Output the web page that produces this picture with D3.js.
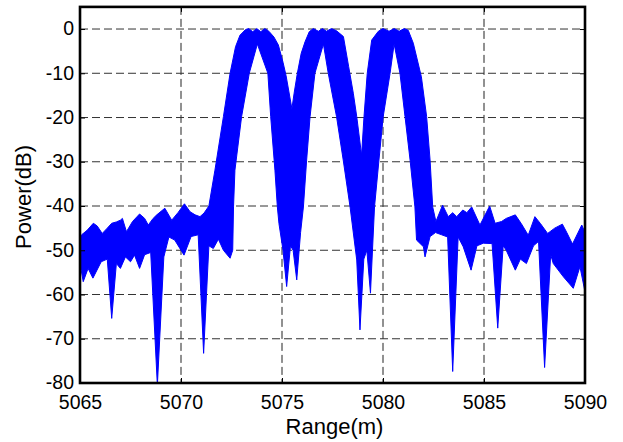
<!DOCTYPE html>
<html>
<head>
<meta charset="utf-8">
<script src="https://cdn.jsdelivr.net/npm/d3@7"></script>
<style>
  html, body { margin: 0; padding: 0; background: #fff; }
  svg { display: block; }
  text { font-family: "Liberation Sans", Arial, Helvetica, sans-serif; fill: #000; }
</style>
</head>
<body>
<svg id="chart" width="623" height="442"></svg>
<script>
// ---- Data ----
const xTicks = [5065, 5070, 5075, 5080, 5085, 5090];
const yTicks = [-80, -70, -60, -50, -40, -30, -20, -10, 0];
const xLabel = "Range(m)";
const yLabel = "Power(dB)";

// Upper envelope of the family of range profiles
const upperRange = [5065.0, 5065.08, 5065.35, 5065.66, 5065.85, 5066.1, 5066.35, 5066.57, 5066.8, 5067.0,
  5067.1, 5067.3, 5067.6, 5067.95, 5068.2, 5068.38, 5068.62, 5068.8, 5069.2, 5069.54,
  5069.85, 5070.17, 5070.45, 5070.7, 5070.94, 5071.14, 5071.38, 5071.68, 5072.1, 5072.43,
  5072.7, 5072.92, 5073.2, 5073.35, 5073.55, 5073.75, 5073.95, 5074.15, 5074.35, 5074.6,
  5074.82, 5075.05, 5075.2, 5075.49, 5075.6, 5075.76, 5075.95, 5076.14, 5076.35, 5076.55,
  5076.8, 5077.0, 5077.2, 5077.45, 5077.7, 5078.04, 5078.3, 5078.53, 5078.7, 5078.94,
  5079.06, 5079.22, 5079.44, 5079.77, 5080.0, 5080.3, 5080.55, 5080.8, 5081.05, 5081.25,
  5081.5, 5081.9, 5082.16, 5082.33, 5082.46, 5082.62, 5082.95, 5083.23, 5083.45, 5083.65,
  5083.95, 5084.15, 5084.39, 5084.8, 5085.28, 5085.55, 5085.87, 5086.1, 5086.55, 5086.85,
  5087.19, 5087.52, 5087.8, 5088.15, 5088.5, 5088.88, 5089.1, 5089.38, 5089.84, 5090.0];
const upperPower = [-47.5, -46.5, -45.5, -43.9, -44.5, -46.2, -45.0, -43.9, -43.6, -43.2,
  -42.8, -45.8, -43.5, -41.8, -42.8, -44.3, -42.8, -42.0, -40.5, -43.2,
  -41.5, -39.5, -41.3, -42.0, -42.4, -41.6, -40.0, -31.9, -19.8, -10.0,
  -4.0, -1.4, -0.1, 0.1, -0.6, 0.1, -0.6, 0.1, -0.5, -1.8,
  -3.6, -7.5, -10.5, -18.0, -14.5, -10.0, -5.5, -2.9, -0.6, 0.1,
  -0.5, 0.1, -0.5, 0.1, -0.4, -1.7, -8.5, -14.5, -19.8, -28.5,
  -19.8, -10.0, -2.5, -0.5, 0.1, -0.5, 0.1, -0.5, 0.1, -0.3,
  -3.2, -10.8, -19.8, -29.6, -40.2, -43.5, -39.8, -42.4, -41.5, -42.4,
  -40.9, -41.5, -40.2, -44.3, -40.0, -43.9, -43.5, -42.8, -42.0, -44.0,
  -46.6, -42.4, -44.0, -46.2, -45.0, -44.1, -46.0, -48.6, -44.3, -46.0];

// Lower envelope of the family of range profiles
const lowerRange = [5065.0, 5065.16, 5065.4, 5065.64, 5066.05, 5066.35, 5066.57, 5066.8, 5067.0, 5067.25,
  5067.5, 5067.7, 5067.95, 5068.2, 5068.5, 5068.83, 5069.15, 5069.4, 5069.69, 5070.15,
  5070.5, 5070.85, 5071.12, 5071.38, 5071.6, 5071.85, 5072.1, 5072.43, 5072.56, 5072.6,
  5072.67, 5073.0, 5073.38, 5073.78, 5074.3, 5074.44, 5074.65, 5074.77, 5074.85, 5075.05,
  5075.23, 5075.42, 5075.55, 5075.73, 5075.92, 5076.06, 5076.22, 5076.39, 5076.63, 5077.05,
  5077.29, 5077.7, 5078.03, 5078.37, 5078.7, 5078.86, 5079.05, 5079.2, 5079.38, 5079.58,
  5079.8, 5080.01, 5080.35, 5080.55, 5080.84, 5081.09, 5081.34, 5081.58, 5081.66, 5082.0,
  5082.08, 5082.33, 5082.6, 5082.9, 5083.2, 5083.45, 5083.72, 5083.97, 5084.36, 5084.65,
  5084.97, 5085.4, 5085.68, 5085.95, 5086.1, 5086.55, 5086.8, 5087.1, 5087.45, 5087.7,
  5088.0, 5088.3, 5088.43, 5088.93, 5089.42, 5089.75, 5090.0];
const lowerPower = [-53.0, -57.1, -54.1, -56.3, -52.6, -52.0, -65.4, -53.0, -54.1, -51.5,
  -52.6, -51.1, -54.1, -51.0, -50.5, -80.5, -51.5, -47.0, -47.7, -51.1,
  -46.9, -46.5, -73.3, -49.0, -49.6, -47.5, -50.0, -51.8, -50.0, -40.2,
  -31.9, -19.8, -10.0, -3.4, -10.0, -19.8, -31.9, -40.2, -44.0, -50.0,
  -58.2, -49.0, -50.0, -56.7, -46.0, -40.2, -29.6, -19.8, -10.0, -3.4,
  -10.0, -19.8, -29.6, -40.2, -52.2, -68.0, -52.0, -50.0, -59.7, -40.2,
  -29.6, -19.8, -10.0, -3.4, -10.0, -19.8, -29.6, -40.2, -47.7, -49.2,
  -51.5, -46.9, -46.0, -46.5, -47.0, -77.4, -47.0, -49.2, -54.5, -49.0,
  -48.4, -48.5, -67.6, -49.0, -50.0, -54.5, -52.0, -53.0, -49.0, -48.0,
  -76.5, -51.0, -53.0, -56.0, -58.6, -53.7, -59.4];

// ---- Chart ----
const svg = d3.select("#chart");
const W = 623, H = 442;
const plot = { left: 80, right: 585, top: 6.9, bottom: 383 };

const x = d3.scaleLinear().domain([5065, 5090]).range([plot.left, plot.right]);
const y = d3.scaleLinear().domain([-80, 5]).range([plot.bottom, plot.top]);

svg.append("rect").attr("width", W).attr("height", H).attr("fill", "#fff");

svg.append("defs").append("clipPath").attr("id", "clip")
  .append("rect")
  .attr("x", plot.left).attr("y", plot.top)
  .attr("width", plot.right - plot.left).attr("height", plot.bottom - plot.top);

// grid
const grid = svg.append("g").attr("class", "grid");
grid.selectAll("line.v").data(xTicks.slice(1, -1)).enter().append("line")
  .attr("x1", d => x(d)).attr("x2", d => x(d))
  .attr("y1", plot.top).attr("y2", plot.bottom)
  .attr("stroke", "#222").attr("stroke-width", 1).attr("stroke-dasharray", "8,4");
grid.selectAll("line.h").data(yTicks.slice(1)).enter().append("line")
  .attr("x1", plot.left).attr("x2", plot.right)
  .attr("y1", d => y(d)).attr("y2", d => y(d))
  .attr("stroke", "#333").attr("stroke-width", 1).attr("stroke-dasharray", "8,4");

// band of profiles (region between upper and lower envelopes)
const upperPts = upperRange.map((r, i) => [r, upperPower[i]]);
const lowerPts = lowerRange.map((r, i) => [r, lowerPower[i]]).reverse();
const line = d3.line().x(d => x(d[0])).y(d => y(d[1]));
svg.append("path")
  .attr("clip-path", "url(#clip)")
  .attr("d", line(upperPts.concat(lowerPts)) + "Z")
  .attr("fill", "#0000ff")
  .attr("stroke", "#0000ff")
  .attr("stroke-width", 1)
  .attr("stroke-linejoin", "miter");

// axes
const fontTick = "19.5px";
const fmt = d => String(d);   // plain hyphen-minus as in the reference
const axB = svg.append("g").attr("transform", `translate(0,${plot.bottom})`)
  .call(d3.axisBottom(x).tickValues(xTicks).tickSize(-5).tickPadding(12).tickFormat(fmt));
const axT = svg.append("g").attr("transform", `translate(0,${plot.top})`)
  .call(d3.axisTop(x).tickValues(xTicks).tickSize(-5).tickFormat(""));
const axL = svg.append("g").attr("transform", `translate(${plot.left},0)`)
  .call(d3.axisLeft(y).tickValues(yTicks).tickSize(-5).tickPadding(6).tickFormat(fmt));
const axR = svg.append("g").attr("transform", `translate(${plot.right},0)`)
  .call(d3.axisRight(y).tickValues(yTicks).tickSize(-5).tickFormat(""));

[axB, axT, axL, axR].forEach(a => {
  a.select(".domain").remove();
  a.selectAll(".tick line").attr("stroke", "#000").attr("stroke-width", 1);
  a.selectAll(".tick text").attr("font-size", fontTick)
    .attr("font-family", '"Liberation Sans", Arial, sans-serif').attr("fill", "#000");
});
axL.selectAll(".tick text").attr("dy", "0.3em");

// frame
svg.append("rect")
  .attr("x", plot.left).attr("y", plot.top)
  .attr("width", plot.right - plot.left).attr("height", plot.bottom - plot.top)
  .attr("fill", "none").attr("stroke", "#000").attr("stroke-width", 2.6);

// axis titles
svg.append("text")
  .attr("x", (plot.left + plot.right) / 2 + 2).attr("y", 434)
  .attr("text-anchor", "middle").attr("font-size", "22px")
  .text(xLabel);
svg.append("text")
  .attr("transform", `translate(31,${(plot.top + plot.bottom) / 2 + 2}) rotate(-90)`)
  .attr("text-anchor", "middle").attr("font-size", "22px")
  .text(yLabel);
</script>
</body>
</html>
